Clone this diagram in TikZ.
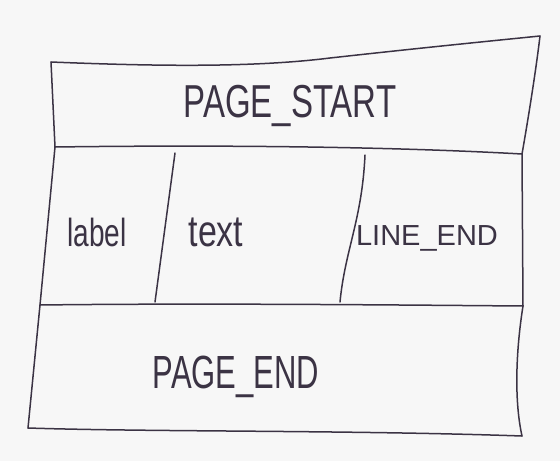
\documentclass[tikz,border=0pt]{standalone}
\usepackage{fontspec}
\setmainfont{Liberation Sans}
\definecolor{inkPen}{HTML}{3B3344}
\definecolor{paperGray}{HTML}{F7F7F7}
\newcommand{\tallText}[2][1.4]{\scalebox{1}[#1]{#2}}

\begin{document}
\begin{tikzpicture}[x=1pt,y=-1pt,
  pen/.style={inkPen,line width=1.5pt,line cap=round,line join=round},
  big/.style={inkPen,inner sep=0pt,font=\fontsize{33}{33}\selectfont},
  small/.style={inkPen,inner sep=0pt,font=\fontsize{28}{28}\selectfont}]
\useasboundingbox[fill=paperGray] (0,0) rectangle (560,461);
% corners and row dividers of the sketched frame
\coordinate (tl) at (51,62);
\coordinate (tr) at (540,36);
\coordinate (ml) at (55,147);
\coordinate (mr) at (522,154);
\coordinate (nl) at (40,305);
\coordinate (nr) at (523,306);
\coordinate (bl) at (28,428);
\coordinate (br) at (522,436);
% outer frame
\draw[pen] (tl) .. controls (150,66) and (250,68) .. (330,58)
  .. controls (420,48) and (500,40) .. (tr);
\draw[pen] (tr) .. controls (536,70) and (528,120) .. (mr)
  -- (nr) .. controls (516,350) and (514,400) .. (br);
\draw[pen] (tl) -- (ml) -- (nl) -- (bl);
\draw[pen] (bl) .. controls (150,432) and (350,430) .. (br);
% row dividers
\draw[pen] (ml) .. controls (200,145) and (380,146) .. (mr);
\draw[pen] (nl) .. controls (200,303) and (400,305) .. (nr);
% column dividers
\coordinate (c1t) at (175,153);
\coordinate (c1b) at (155,302);
\coordinate (c2t) at (365,155);
\coordinate (c2b) at (340,302);
\draw[pen] (c1t) -- (c1b);
\draw[pen] (c2t) .. controls (362,220) and (345,250) .. (c2b);
% labels
\node[big] (pstart) at (290,106) {\tallText{PAGE\_START}};
\node[small] (lbl) at (97,232) {\tallText{label}};
\node[small,font=\fontsize{34}{34}\selectfont] (txt) at (216,232) {\tallText[1.3]{text}};
\node[small,font=\fontsize{29}{29}\selectfont] (lend) at (427,238) {LINE\_END};
\node[big,font=\fontsize{31}{31}\selectfont] (pend) at (236,377) {\tallText[1.5]{PAGE\_END}};
\end{tikzpicture}
\end{document}
